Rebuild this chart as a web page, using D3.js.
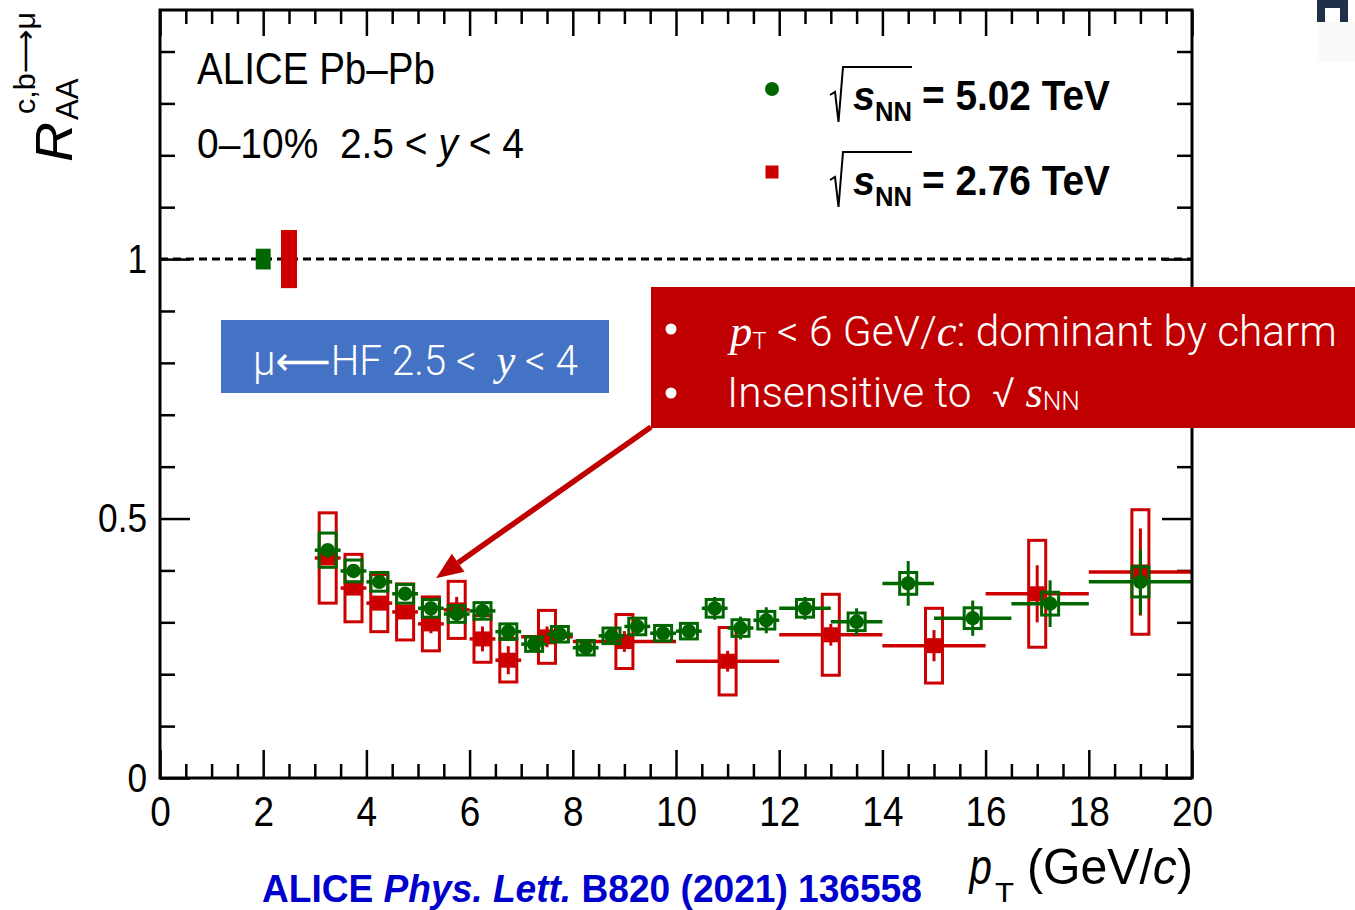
<!DOCTYPE html>
<html>
<head>
<meta charset="utf-8">
<script src="https://cdn.jsdelivr.net/npm/d3@7"></script>
<style>
  html, body { margin: 0; padding: 0; background: #fff; }
  svg { display: block; }
</style>
</head>
<body>
<svg id="chart" width="1355" height="910"></svg>
<script>
// Nuclear modification factor of muons from heavy-flavour hadron decays,
// 0-10% central Pb-Pb collisions, 2.5 < y < 4, at two collision energies.

// sqrt(sNN) = 5.02 TeV : bin edges, R_AA, statistical and systematic uncertainties
const ptLo502 = [3, 3.5, 4, 4.5, 5, 5.5, 6, 6.5, 7, 7.5, 8, 8.5, 9, 9.5, 10, 10.5, 11, 11.5, 12, 13, 14, 15, 16.5, 18];
const ptHi502 = [3.5, 4, 4.5, 5, 5.5, 6, 6.5, 7, 7.5, 8, 8.5, 9, 9.5, 10, 10.5, 11, 11.5, 12, 13, 14, 15, 16.5, 18, 20];
const raa502  = [0.439, 0.399, 0.378, 0.355, 0.327, 0.316, 0.322, 0.282, 0.258, 0.277, 0.251, 0.274,
                 0.292, 0.279, 0.283, 0.327, 0.289, 0.304, 0.327, 0.301, 0.375, 0.308, 0.336, 0.378];
const stat502 = [0.008, 0.007, 0.007, 0.007, 0.007, 0.007, 0.008, 0.008, 0.009, 0.009, 0.010, 0.011,
                 0.016, 0.013, 0.014, 0.022, 0.022, 0.025, 0.022, 0.026, 0.043, 0.034, 0.045, 0.063];
const sys502  = [0.033, 0.021, 0.018, 0.018, 0.017, 0.016, 0.016, 0.015, 0.014, 0.015, 0.014, 0.015,
                 0.016, 0.015, 0.015, 0.017, 0.016, 0.017, 0.017, 0.017, 0.021, 0.020, 0.022, 0.029];

// sqrt(sNN) = 2.76 TeV
const ptLo276 = [3, 3.5, 4, 4.5, 5, 5.5, 6, 6.5, 7, 8, 10, 12, 14, 16, 18];
const ptHi276 = [3.5, 4, 4.5, 5, 5.5, 6, 6.5, 7, 8, 10, 12, 14, 16, 18, 20];
const raa276  = [0.424, 0.366, 0.337, 0.320, 0.297, 0.324, 0.268, 0.227, 0.272, 0.263, 0.225, 0.276, 0.255, 0.355, 0.397];
const stat276 = [0.010, 0.010, 0.010, 0.012, 0.018, 0.025, 0.024, 0.027, 0.020, 0.020, 0.020, 0.021, 0.030, 0.055, 0.084];
const sys276  = [0.087, 0.065, 0.055, 0.054, 0.052, 0.055, 0.045, 0.042, 0.051, 0.052, 0.065, 0.078, 0.072, 0.103, 0.120];

// Normalisation uncertainties drawn at R_AA = 1 (5.02 TeV, 2.76 TeV)
const normPt  = [2.0, 2.5];
const normUnc = [0.020, 0.056];

// Axis ticks and labels
const xTickValues = [0, 2, 4, 6, 8, 10, 12, 14, 16, 18, 20];
const xTickLabels = ["0", "2", "4", "6", "8", "10", "12", "14", "16", "18", "20"];
const yTickValues = [0, 0.5, 1];
const yTickLabels = ["0", "0.5", "1"];

const legendEnergies = ["5.02 TeV", "2.76 TeV"];

const GREEN = "#006600";
const RED = "#CC0000";
const ROOT_FONT = "'Liberation Sans', Arial, Helvetica, sans-serif";
const SERIF = "'Liberation Serif', 'Times New Roman', serif";
const THIN = "Roboto, 'Noto Sans', sans-serif";

const svg = d3.select("#chart");
svg.append("rect").attr("width", 1355).attr("height", 910).attr("fill", "#fff");

const frame = { left: 160, right: 1192, top: 10, bottom: 778 };
const x = d3.scaleLinear().domain([0, 20]).range([frame.left, frame.right]);
const y = d3.scaleLinear().domain([0, 1.48]).range([frame.bottom, frame.top]);

// ---------- helpers for composite text ----------
function rich(parent, parts, family) {
  const g = parent.append("g");
  let cx = 0;
  for (const p of parts) {
    cx += p.dx || 0;
    const t = g.append("text")
      .attr("x", cx).attr("y", p.dy || 0)
      .attr("font-family", p.family || family)
      .attr("font-size", p.size)
      .attr("font-style", p.italic ? "italic" : null)
      .attr("font-weight", p.weight || null)
      .style("white-space", "pre")
      .text(p.t);
    cx += t.node().getComputedTextLength();
  }
  return g;
}
// place a composite label so its inked extent starts at x0 and spans `width`
function fit(g, x0, baseline, width, rot) {
  const b = g.node().getBBox();
  const s = width / b.width;
  g.attr("transform",
    `translate(${x0},${baseline})${rot ? ` rotate(${rot})` : ""} scale(${s},1) translate(${-b.x},0)`);
  return g;
}

// ---------- axes ----------
const xMinor = d3.range(0, 20.001, 0.5).filter(v => Math.abs(v / 2 - Math.round(v / 2)) > 1e-6);
const yMinor = d3.range(0.1, 1.48, 0.1).filter(v => Math.abs(v * 2 - Math.round(v * 2)) > 1e-6);

function styleAxis(g) {
  g.select(".domain").remove();
  g.selectAll("line").attr("stroke", "#000").attr("stroke-width", 2.5);
}

svg.append("g").attr("transform", `translate(0,${frame.bottom})`)
  .call(d3.axisBottom(x).tickValues(xTickValues).tickFormat((d, i) => xTickLabels[i])
    .tickSizeInner(-28).tickSizeOuter(0).tickPadding(17))
  .call(styleAxis)
  .call(g => g.selectAll("text").attr("font-family", ROOT_FONT).attr("font-size", 43)
    .attr("fill", "#000").attr("transform", "scale(0.86,1)"));
svg.append("g").attr("transform", `translate(0,${frame.bottom})`)
  .call(d3.axisBottom(x).tickValues(xMinor).tickFormat("").tickSizeInner(-14).tickSizeOuter(0))
  .call(styleAxis);
svg.append("g").attr("transform", `translate(0,${frame.top})`)
  .call(d3.axisTop(x).tickValues(xTickValues).tickFormat("").tickSizeInner(-26).tickSizeOuter(0))
  .call(styleAxis);
svg.append("g").attr("transform", `translate(0,${frame.top})`)
  .call(d3.axisTop(x).tickValues(xMinor).tickFormat("").tickSizeInner(-14).tickSizeOuter(0))
  .call(styleAxis);

svg.append("g").attr("transform", `translate(${frame.left},0)`)
  .call(d3.axisLeft(y).tickValues(yTickValues).tickFormat((d, i) => yTickLabels[i])
    .tickSizeInner(-30).tickSizeOuter(0).tickPadding(15))
  .call(styleAxis)
  .call(g => g.selectAll("text").attr("font-family", ROOT_FONT).attr("font-size", 41)
    .attr("fill", "#000").attr("transform", "scale(0.86,1)"));
svg.append("g").attr("transform", `translate(${frame.left},0)`)
  .call(d3.axisLeft(y).tickValues(yMinor).tickFormat("").tickSizeInner(-15).tickSizeOuter(0))
  .call(styleAxis);
svg.append("g").attr("transform", `translate(${frame.right},0)`)
  .call(d3.axisRight(y).tickValues(yTickValues).tickFormat("").tickSizeInner(-30).tickSizeOuter(0))
  .call(styleAxis);
svg.append("g").attr("transform", `translate(${frame.right},0)`)
  .call(d3.axisRight(y).tickValues(yMinor).tickFormat("").tickSizeInner(-15).tickSizeOuter(0))
  .call(styleAxis);

// unity reference line
svg.append("line")
  .attr("x1", x(0)).attr("x2", x(20)).attr("y1", y(1)).attr("y2", y(1))
  .attr("stroke", "#000").attr("stroke-width", 3).attr("stroke-dasharray", "8,5");

// normalisation boxes
const normColors = [GREEN, RED];
const normHalf = [0.145, 0.155];
svg.append("g").selectAll("rect").data(normPt).join("rect")
  .attr("x", (d, i) => x(d - normHalf[i]))
  .attr("width", (d, i) => x(d + normHalf[i]) - x(d - normHalf[i]))
  .attr("y", (d, i) => y(1 + normUnc[i]))
  .attr("height", (d, i) => y(1 - normUnc[i]) - y(1 + normUnc[i]))
  .attr("fill", (d, i) => normColors[i]);

// ---------- data points ----------
function series(lo, hi, v, st, sy) {
  return v.map((val, i) => ({ lo: lo[i], hi: hi[i], pt: (lo[i] + hi[i]) / 2, v: val, stat: st[i], sys: sy[i] }));
}
const data276 = series(ptLo276, ptHi276, raa276, stat276, sys276);
const data502 = series(ptLo502, ptHi502, raa502, stat502, sys502);
const boxHalf = 0.165;

function drawSeries(d, color, marker) {
  const g = svg.append("g");
  g.selectAll("rect.sys").data(d).join("rect").attr("class", "sys")
    .attr("x", p => x(p.pt - boxHalf)).attr("width", p => x(p.pt + boxHalf) - x(p.pt - boxHalf))
    .attr("y", p => y(p.v + p.sys)).attr("height", p => y(p.v - p.sys) - y(p.v + p.sys))
    .attr("fill", "none").attr("stroke", color).attr("stroke-width", 3);
  g.selectAll("line.xerr").data(d).join("line").attr("class", "xerr")
    .attr("x1", p => x(p.lo)).attr("x2", p => x(p.hi))
    .attr("y1", p => y(p.v)).attr("y2", p => y(p.v))
    .attr("stroke", color).attr("stroke-width", 3.5);
  g.selectAll("line.yerr").data(d).join("line").attr("class", "yerr")
    .attr("x1", p => x(p.pt)).attr("x2", p => x(p.pt))
    .attr("y1", p => y(p.v - p.stat)).attr("y2", p => y(p.v + p.stat))
    .attr("stroke", color).attr("stroke-width", 3);
  if (marker === "circle") {
    g.selectAll("circle").data(d).join("circle")
      .attr("cx", p => x(p.pt)).attr("cy", p => y(p.v)).attr("r", 7.2).attr("fill", color);
  } else {
    g.selectAll("rect.mk").data(d).join("rect").attr("class", "mk")
      .attr("x", p => x(p.pt) - 7.5).attr("y", p => y(p.v) - 7.5)
      .attr("width", 15).attr("height", 15).attr("fill", color);
  }
}
drawSeries(data276, RED, "square");
drawSeries(data502, GREEN, "circle");

// frame
svg.append("rect")
  .attr("x", frame.left).attr("y", frame.top)
  .attr("width", frame.right - frame.left).attr("height", frame.bottom - frame.top)
  .attr("fill", "none").attr("stroke", "#000").attr("stroke-width", 3);

// ---------- titles ----------
fit(rich(svg, [{ t: "ALICE Pb\u2013Pb", size: 44 }], ROOT_FONT), 197, 84, 238);
fit(rich(svg, [
  { t: "0\u201310%  2.5 < ", size: 43 },
  { t: "y", size: 43, italic: true },
  { t: " < 4", size: 43 }
], ROOT_FONT), 197, 158, 327);

// y-axis title: R_AA^{c,b->mu}
const yt = svg.append("g");
fit(rich(yt, [{ t: "R", size: 52, italic: true }], ROOT_FONT), 72, 162, 40, -90);
fit(rich(yt, [{ t: "AA", size: 31 }], ROOT_FONT), 78, 120, 42, -90);
fit(rich(yt, [{ t: "c,b", size: 29 }, { t: "\u27f6", size: 29, family: "'DejaVu Sans', sans-serif" }, { t: "\u03bc", size: 29 }], ROOT_FONT), 35, 114, 102, -90);

// x-axis title: p_T (GeV/c)
fit(rich(svg, [{ t: "p", size: 50, italic: true }], ROOT_FONT), 968, 884, 24);
fit(rich(svg, [{ t: "T", size: 28 }], ROOT_FONT), 995, 902, 19);
fit(rich(svg, [
  { t: "(GeV/", size: 50 },
  { t: "c", size: 50, italic: true },
  { t: ")", size: 50 }
], ROOT_FONT), 1027, 884, 166);

// ---------- legend ----------
const legendY = [110, 195];
legendEnergies.forEach((e, i) => {
  const base = legendY[i];
  const g = svg.append("g");
  g.append("path")
    .attr("d", `M830,${base - 15} L835,${base - 18} L838.5,${base + 12} L843,${base - 43} L912,${base - 43}`)
    .attr("fill", "none").attr("stroke", "#000").attr("stroke-width", 2);
  fit(rich(g, [{ t: "s", size: 40, italic: true, weight: "bold" }], ROOT_FONT), 853, base, 22);
  fit(rich(g, [{ t: "NN", size: 27, weight: "bold" }], ROOT_FONT), 875, base + 11, 37);
  fit(rich(g, [{ t: "= " + e, size: 42, weight: "bold" }], ROOT_FONT), 922, base, 188);
});
svg.append("circle").attr("cx", 772).attr("cy", 89).attr("r", 7).attr("fill", GREEN);
svg.append("rect").attr("x", 765.5).attr("y", 165.5).attr("width", 13).attr("height", 13).attr("fill", RED);

// ---------- reference ----------
const cite = rich(svg, [
  { t: "ALICE ", size: 39, weight: "bold" },
  { t: "Phys. Lett.", size: 39, weight: "bold", italic: true },
  { t: " B820 (2021) 136558", size: 39, weight: "bold" }
], ROOT_FONT).attr("fill", "#0000CC");
fit(cite, 262, 902, 660);

// ---------- annotation boxes ----------
svg.append("rect").attr("x", 221).attr("y", 320).attr("width", 388).attr("height", 73).attr("fill", "#4472C4");
fit(rich(svg, [
  { t: "\u03bc", size: 42, weight: 300 },
  { t: "\u27f5", size: 40, family: "'DejaVu Sans', sans-serif" },
  { t: "HF 2.5 <  ", size: 42, weight: 300 },
  { t: "y", size: 44, italic: true, family: SERIF },
  { t: " < 4", size: 42, weight: 300 }
], THIN).attr("fill", "#fff"), 253, 375, 325);

// pointer from the note to the low-pT region
const tail = [651, 427];
const tip = [x(5.35), y(0.385)];
const dxA = tip[0] - tail[0], dyA = tip[1] - tail[1];
const len = Math.hypot(dxA, dyA), ux = dxA / len, uy = dyA / len;
const headL = 27, headW = 11;
const bx = tip[0] - ux * headL, by = tip[1] - uy * headL;
svg.append("line").attr("x1", tail[0]).attr("y1", tail[1]).attr("x2", bx).attr("y2", by)
  .attr("stroke", "#C00000").attr("stroke-width", 5.5);
svg.append("path")
  .attr("d", `M${tip[0]},${tip[1]} L${bx - uy * headW},${by + ux * headW} L${bx + uy * headW},${by - ux * headW} Z`)
  .attr("fill", "#C00000");

svg.append("rect").attr("x", 651).attr("y", 287).attr("width", 704).attr("height", 141).attr("fill", "#C00000");
const note = svg.append("g").attr("fill", "#fff");
note.append("circle").attr("cx", 671).attr("cy", 329).attr("r", 5.5);
note.append("circle").attr("cx", 671).attr("cy", 393).attr("r", 5.5);
fit(rich(note, [
  { t: "p", size: 44, italic: true, family: SERIF },
  { t: "T", size: 24, weight: 300, dy: 3 },
  { t: " < 6 GeV/", size: 42, weight: 300 },
  { t: "c", size: 44, italic: true, family: SERIF },
  { t: ": dominant by charm", size: 42, weight: 300 }
], THIN), 727, 346, 610);
fit(rich(note, [
  { t: "Insensitive to  \u221a ", size: 42, weight: 300 },
  { t: "s", size: 44, italic: true, family: SERIF },
  { t: "NN", size: 26, weight: 300, dy: 3 }
], THIN), 727, 407, 353);

// page-corner mark
svg.append("rect").attr("x", 1317).attr("y", 22).attr("width", 38).attr("height", 40).attr("fill", "#fafafa");
svg.append("path").attr("d", "M1317,0 H1348 V22 H1340 V8 H1325 V22 H1317 Z").attr("fill", "#1f3049");
</script>
</body>
</html>
